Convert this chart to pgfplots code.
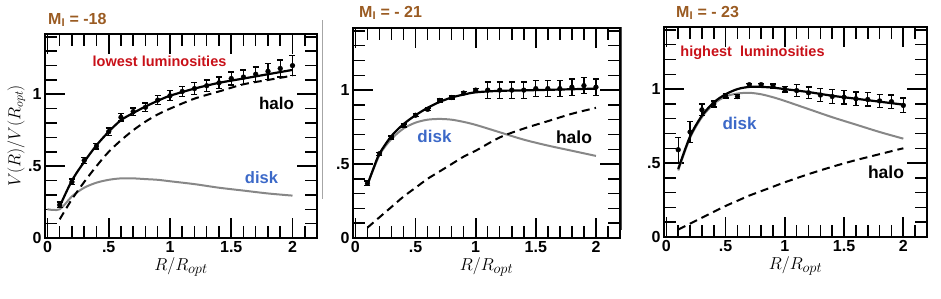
\documentclass[border=0pt]{standalone}
\usepackage{pgfplots}
\pgfplotsset{compat=1.18}
\usepackage{fontspec}
\setmainfont{Liberation Sans}
\definecolor{titlebrown}{RGB}{154,91,34}
\definecolor{annred}{RGB}{200,16,24}
\definecolor{annblue}{RGB}{60,105,200}
\definecolor{diskgray}{RGB}{135,135,135}
\pgfplotsset{
  rcpanel/.style={
    scale only axis,
    anchor=south west,
    xmin=-0.02, xmax=2.2, ymin=0, ymax=1.42,
    xtick={0,0.5,1,1.5,2}, xticklabels={0,.5,1,1.5,2},
    ytick={0,0.5,1}, yticklabels={0,.5,1},
    minor xtick={0.1,0.2,0.3,0.4,0.6,0.7,0.8,0.9,1.1,1.2,1.3,1.4,1.6,1.7,1.8,1.9,2.1},
    minor ytick={0.1,0.2,0.3,0.4,0.6,0.7,0.8,0.9,1.1,1.2,1.3,1.4},
    axis line style={line width=1.8pt},
    tick label style={font=\fontsize{16}{16}\selectfont\bfseries},
    xlabel={$R/R_{opt}$},
    xlabel style={font=\fontsize{19}{19}\selectfont, yshift=2pt},
    clip=false,
    tick align=inside,
    xtick pos=both, ytick pos=both,
    major tick length=20pt, minor tick length=12pt,
    every major tick/.append style={line width=1.7pt, black},
    every minor tick/.append style={line width=1.5pt, black},
  },
  fitline/.style={black, line width=2.2pt, no marks, smooth},
  halo/.style={black, line width=2pt, dash pattern=on 8pt off 5pt, no marks, smooth},
  diskline/.style={diskgray, line width=2pt, no marks, smooth},
  pts/.style={black, only marks, mark=*, mark size=2.4pt,
    error bars/.cd, y dir=both, y explicit,
    error bar style={line width=1.3pt, black},
    error mark options={rotate=90, mark size=3pt, line width=1.3pt, black}},
}
\begin{document}
\begin{tikzpicture}
\path[use as bounding box] (0pt,0pt) rectangle (941pt,299pt);
\draw[black!35, line width=0.8pt] (322pt,100pt) -- (322pt,279pt);
\draw[black!70, line width=1pt] (621pt,69pt) -- (621pt,272pt);

% ---------------- Panel 1 : M_I = -18
\begin{axis}[rcpanel, at={(45pt,61pt)}, width=272pt, height=204pt,
  ylabel={$V(R)/V(R_{opt})$},
  ylabel style={font=\fontsize{17}{17}\selectfont, yshift=-4pt}]
\addplot[diskline] coordinates {(0.0,0.2) (0.1,0.2) (0.2,0.29) (0.3,0.35) (0.4,0.385) (0.5,0.405) (0.6,0.415) (0.7,0.415) (0.8,0.41) (0.9,0.405) (1.0,0.395) (1.2,0.375) (1.4,0.35) (1.6,0.33) (1.8,0.31) (2.0,0.295)};
\addplot[halo] coordinates {(0.1,0.13) (0.2,0.27) (0.3,0.39) (0.4,0.50) (0.5,0.60) (0.6,0.68) (0.7,0.75) (0.8,0.81) (0.9,0.86) (1.0,0.90) (1.2,0.97) (1.4,1.02) (1.6,1.07) (1.8,1.10) (2.0,1.13)};
\addplot[fitline] coordinates {(0.1,0.22) (0.2,0.40) (0.3,0.53) (0.4,0.645) (0.5,0.74) (0.6,0.82) (0.7,0.87) (0.8,0.915) (0.9,0.955) (1.0,0.99) (1.2,1.04) (1.4,1.08) (1.6,1.11) (1.8,1.14) (2.0,1.17)};
\addplot[pts] table[x=x, y=y, y error=e] {
x y e
0.1 0.23 0.02
0.2 0.39 0.02
0.3 0.54 0.02
0.4 0.64 0.02
0.5 0.74 0.025
0.6 0.84 0.025
0.7 0.88 0.025
0.8 0.91 0.03
0.9 0.96 0.03
1.0 0.99 0.035
1.1 1.02 0.035
1.2 1.04 0.04
1.3 1.06 0.04
1.4 1.08 0.04
1.5 1.11 0.045
1.6 1.12 0.05
1.7 1.14 0.05
1.8 1.16 0.055
1.9 1.18 0.06
2.0 1.20 0.07
};
\end{axis}

% ---------------- Panel 2 : M_I = -21
\begin{axis}[rcpanel, at={(353pt,61pt)}, width=267pt, height=210pt]
\addplot[diskline] coordinates {(0.1,0.36) (0.2,0.56) (0.3,0.67) (0.4,0.74) (0.5,0.78) (0.6,0.80) (0.7,0.805) (0.8,0.80) (0.9,0.785) (1.0,0.765) (1.2,0.715) (1.4,0.665) (1.6,0.625) (1.8,0.59) (2.0,0.555)};
\addplot[halo] coordinates {(0.1,0.07) (0.2,0.14) (0.3,0.21) (0.4,0.28) (0.5,0.34) (0.6,0.40) (0.7,0.45) (0.8,0.50) (0.9,0.55) (1.0,0.59) (1.2,0.68) (1.4,0.74) (1.6,0.79) (1.8,0.84) (2.0,0.88)};
\addplot[fitline] coordinates {(0.1,0.36) (0.15,0.47) (0.2,0.57) (0.3,0.69) (0.4,0.77) (0.5,0.83) (0.6,0.88) (0.7,0.92) (0.8,0.95) (0.9,0.97) (1.0,0.985) (1.2,0.995) (1.5,1.0) (2.0,1.01)};
\addplot[pts] table[x=x, y=y, y error=e] {
x y e
0.1 0.37 0.015
0.2 0.57 0.01
0.3 0.68 0.01
0.4 0.76 0.01
0.5 0.83 0.01
0.6 0.87 0.01
0.7 0.93 0.01
0.8 0.95 0.01
0.9 0.98 0.01
1.0 1.00 0.01
1.1 1.00 0.055
1.2 1.00 0.055
1.3 1.00 0.055
1.4 1.00 0.055
1.5 1.01 0.055
1.6 1.01 0.055
1.7 1.01 0.055
1.8 1.02 0.055
1.9 1.03 0.055
2.0 1.02 0.055
};
\end{axis}

% ---------------- Panel 3 : M_I = -23
\begin{axis}[rcpanel, at={(664pt,62pt)}, width=263pt, height=210pt]
\addplot[diskline] coordinates {(0.1,0.45) (0.2,0.67) (0.3,0.81) (0.4,0.90) (0.5,0.95) (0.6,0.97) (0.7,0.975) (0.8,0.965) (0.9,0.945) (1.0,0.92) (1.2,0.865) (1.4,0.81) (1.6,0.76) (1.8,0.71) (2.0,0.665)};
\addplot[halo] coordinates {(0.1,0.05) (0.2,0.09) (0.3,0.13) (0.4,0.17) (0.5,0.21) (0.6,0.245) (0.7,0.28) (0.8,0.31) (0.9,0.34) (1.0,0.37) (1.2,0.425) (1.4,0.475) (1.6,0.52) (1.8,0.56) (2.0,0.60)};
\addplot[fitline] coordinates {(0.1,0.46) (0.2,0.68) (0.3,0.82) (0.4,0.91) (0.5,0.965) (0.6,1.0) (0.7,1.015) (0.8,1.015) (0.9,1.01) (1.0,1.0) (1.2,0.98) (1.4,0.955) (1.6,0.935) (1.8,0.915) (2.0,0.895)};
\addplot[pts] table[x=x, y=y, y error=e] {
x y e
0.1 0.59 0.085
0.2 0.71 0.07
0.3 0.86 0.04
0.4 0.90 0.02
0.5 0.955 0.015
0.6 0.95 0.015
0.7 1.03 0.01
0.8 1.03 0.01
0.9 1.02 0.015
1.0 1.00 0.02
1.1 0.99 0.04
1.2 0.975 0.04
1.3 0.96 0.045
1.4 0.95 0.045
1.5 0.945 0.045
1.6 0.935 0.045
1.7 0.93 0.045
1.8 0.92 0.045
1.9 0.915 0.045
2.0 0.89 0.05
};
\end{axis}

% ---------------- titles and annotations
\node[anchor=west, inner sep=0pt, text=titlebrown, font=\fontsize{16}{16}\selectfont\bfseries] at (48pt,279pt) {M\textsubscript{I} = -18};
\node[anchor=west, inner sep=0pt, text=titlebrown, font=\fontsize{16}{16}\selectfont\bfseries] at (359pt,286pt) {M\textsubscript{I} = - 21};
\node[anchor=west, inner sep=0pt, text=titlebrown, font=\fontsize{16}{16}\selectfont\bfseries] at (676pt,286pt) {M\textsubscript{I} = - 23};

\node[inner sep=0pt, text=annred, font=\fontsize{14.5}{14.5}\selectfont\bfseries] at (159.5pt,238pt) {lowest luminosities};
\node[inner sep=0pt, text=black, font=\fontsize{17}{17}\selectfont\bfseries] at (276.5pt,196pt) {halo};
\node[inner sep=0pt, text=annblue, font=\fontsize{16.5}{16.5}\selectfont\bfseries] at (261.5pt,121pt) {disk};

\node[inner sep=0pt, text=annblue, font=\fontsize{17}{17}\selectfont\bfseries] at (434.5pt,163pt) {disk};
\node[inner sep=0pt, text=black, font=\fontsize{17.5}{17.5}\selectfont\bfseries] at (574pt,162pt) {halo};

\node[inner sep=0pt, text=annred, font=\fontsize{14.5}{14.5}\selectfont\bfseries] at (752.5pt,246pt) {highest\ \ luminosities};
\node[inner sep=0pt, text=annblue, font=\fontsize{17}{17}\selectfont\bfseries] at (739.5pt,176pt) {disk};
\node[inner sep=0pt, text=black, font=\fontsize{17.5}{17.5}\selectfont\bfseries] at (886pt,127pt) {halo};
\end{tikzpicture}
\end{document}
